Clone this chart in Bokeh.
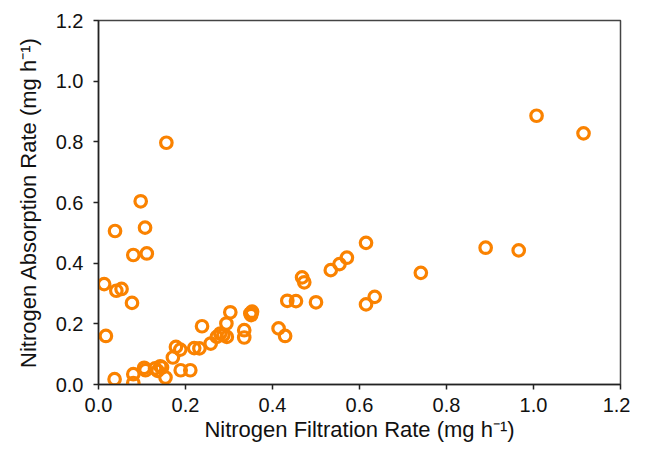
from bokeh.plotting import figure
from bokeh.models import ColumnDataSource, FixedTicker, Range1d
from bokeh.embed import file_html
from bokeh.resources import INLINE

filtration = [
    1.007, 1.115, 0.156, 0.097, 0.038, 0.107, 0.080, 0.111,
    0.615, 0.890, 0.966, 0.741, 0.571, 0.554, 0.534, 0.468, 0.473,
    0.013, 0.041, 0.053, 0.077, 0.017,
    0.434, 0.454, 0.500, 0.635, 0.615,
    0.303, 0.349, 0.353, 0.351, 0.335, 0.335, 0.294, 0.238,
    0.414, 0.429, 0.272, 0.280, 0.287, 0.295, 0.258,
    0.220, 0.232, 0.178, 0.188, 0.171, 0.189, 0.211,
    0.154, 0.130, 0.142, 0.146, 0.136, 0.105, 0.108,
    0.037, 0.080, 0.080,
]
absorption = [
    0.886, 0.828, 0.797, 0.604, 0.506, 0.517, 0.427, 0.432,
    0.467, 0.451, 0.442, 0.368, 0.418, 0.397, 0.377, 0.353, 0.337,
    0.331, 0.309, 0.315, 0.269, 0.160,
    0.276, 0.275, 0.271, 0.289, 0.264,
    0.238, 0.234, 0.240, 0.229, 0.179, 0.155, 0.201, 0.192,
    0.185, 0.160, 0.157, 0.168, 0.163, 0.157, 0.135,
    0.120, 0.119, 0.124, 0.115, 0.089, 0.047, 0.047,
    0.023, 0.053, 0.060, 0.056, 0.045, 0.055, 0.047,
    0.0175, 0.034, 0.005,
]
ticks = [0.0, 0.2, 0.4, 0.6, 0.8, 1.0, 1.2]
tick_labels = {t: f"{t:.1f}" for t in ticks}

src = ColumnDataSource(dict(x=filtration, y=absorption))

p = figure(width=630, height=446, output_backend="svg", toolbar_location=None,
           x_range=Range1d(0, 1.2), y_range=Range1d(0, 1.2),
           min_border_left=98, min_border_top=20, min_border_right=10,
           min_border_bottom=62)
p.background_fill_color = "white"
p.border_fill_color = "white"
p.outline_line_color = "#444444"
p.outline_line_width = 1.5
p.xgrid.visible = False
p.ygrid.visible = False

p.scatter("x", "y", source=src, marker="circle", size=11.5,
          fill_color=None, line_color="#FA8200", line_width=3.2)

font = "Liberation Sans"
for ax in (p.xaxis[0], p.yaxis[0]):
    ax.ticker = FixedTicker(ticks=ticks)
    ax.major_label_overrides = tick_labels
    ax.minor_tick_line_color = None
    ax.major_tick_in = 0
    ax.major_tick_out = 5
    ax.axis_line_color = "#222222"
    ax.axis_line_width = 1.5
    ax.major_tick_line_color = "#222222"
    ax.major_tick_line_width = 1.5
    ax.major_label_text_font = font
    ax.major_label_text_font_size = "20px"
    ax.major_label_text_color = "#111111"
    ax.axis_label_text_font = font
    ax.axis_label_text_font_size = "22px"
    ax.axis_label_text_font_style = "normal"
    ax.axis_label_text_color = "#111111"

p.xaxis.axis_label = "Nitrogen Filtration Rate (mg h\u207B\u00B9)"
p.yaxis.axis_label = "Nitrogen Absorption Rate (mg h\u207B\u00B9)"
p.xaxis.major_label_standoff = 8
p.xaxis.axis_label_standoff = 2
p.yaxis.major_label_standoff = 10
p.yaxis.axis_label_standoff = 12

open("out.html", "w").write(file_html(p, INLINE))
